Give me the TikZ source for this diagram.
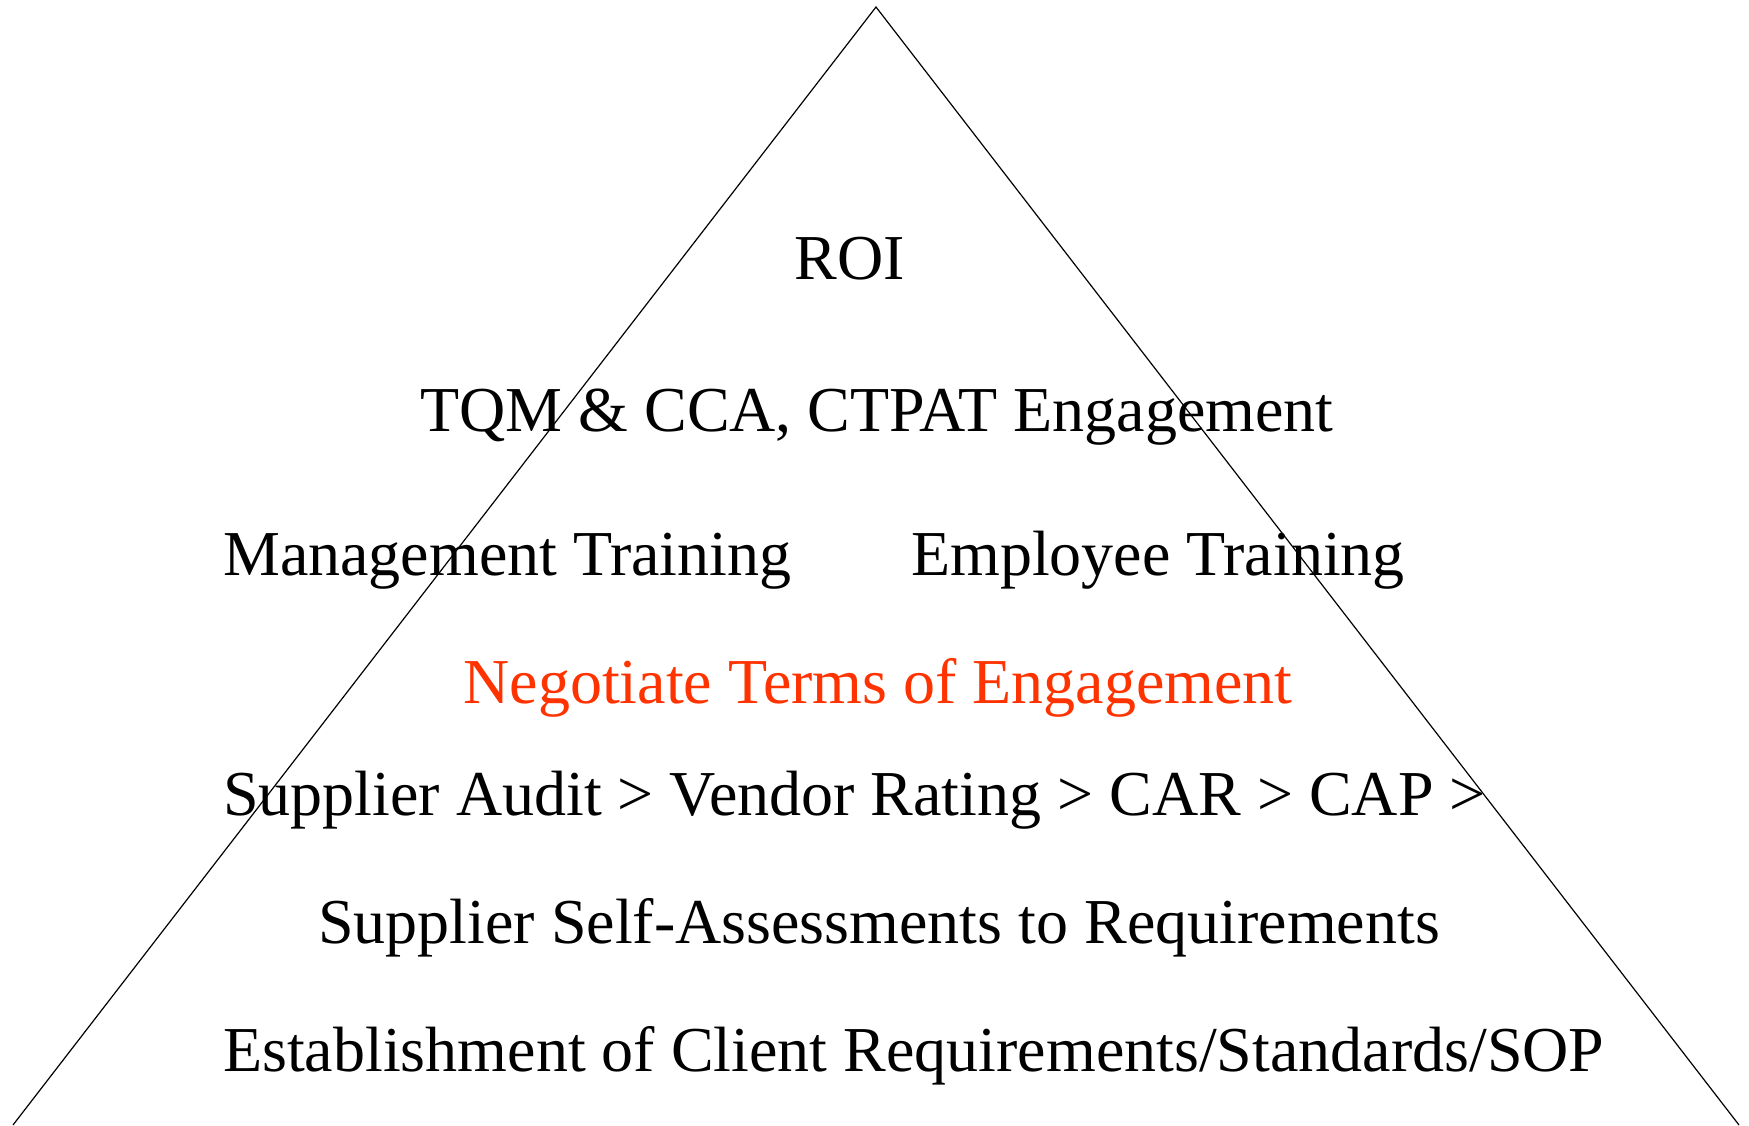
\documentclass[tikz,border=0pt]{standalone}
\usepackage{fontspec}
\setmainfont{Liberation Serif}
\usetikzlibrary{positioning}
\definecolor{engage}{HTML}{FF3300}

\begin{document}
\begin{tikzpicture}[x=1pt,y=-1pt,
                    thin,level/.style={inner sep=0pt,font=\fontsize{64}{64}\selectfont}]
  \useasboundingbox (0,0) rectangle (1749,1125);

  \coordinate (top) at (876,7);
  \coordinate (bl) at (13,1125);
  \coordinate (br) at (1739,1125);
  \draw[line width=1.2pt] (bl) -- (top) -- (br);

  \node[level,anchor=base] (roi) at (850,279) {ROI};
  \node[level,anchor=base] (tqm) at (877,431) {TQM \& CCA, CTPAT Engagement};
  \node[level,anchor=base west] (mgmt) at (223,575) {Management Training};
  \node[level,anchor=base west] (empl) at (911,575) {Employee Training};
  \node[level,anchor=base,text=engage] (terms) at (878,703) {Negotiate Terms of Engagement};
  \node[level,anchor=base west] (audit) at (223,815) {Supplier Audit > Vendor Rating > CAR > CAP >};
  \node[level,anchor=base] (self) at (879,943) {Supplier Self-Assessments to Requirements};
  \node[level,anchor=base west] (est) at (223,1071) {Establishment of Client Requirements/Standards/SOP};

\end{tikzpicture}
\end{document}
